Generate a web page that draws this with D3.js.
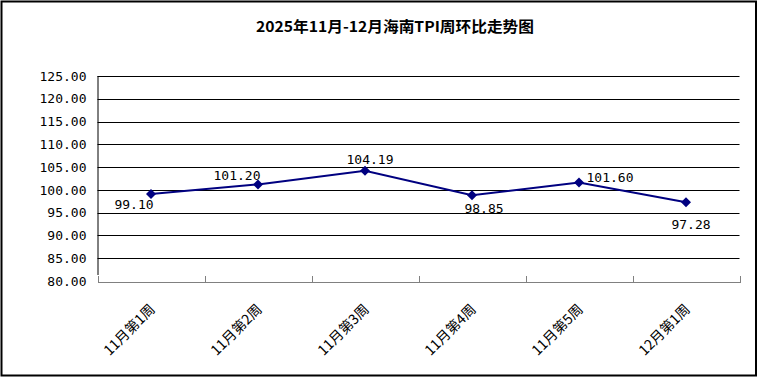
<!DOCTYPE html>
<html>
<head>
<meta charset="utf-8">
<script src="https://cdn.jsdelivr.net/npm/d3@7"></script>
<style>
  html, body { margin: 0; padding: 0; background: #fff; }
  #chart { width: 758px; height: 377px; }
</style>
</head>
<body>
<div id="chart"></div>
<script>
// 数据
const weeks = ["11月第1周", "11月第2周", "11月第3周", "11月第4周", "11月第5周", "12月第1周"];
const tpi = [99.10, 101.20, 104.19, 98.85, 101.60, 97.28];
const yTicks = [80, 85, 90, 95, 100, 105, 110, 115, 120, 125];
const chartTitle = "2025年11月-12月海南TPI周环比走势图";
// 数据标签的手动偏移 (Excel 风格)
const labelNudge = [[-17, 10], [-21, -9], [5, -11], [12, 13], [31, -5], [5, 22]];

const W = 758, H = 377;
const margin = { top: 76, right: 18.5, bottom: 96, left: 97.5 };
const w = W - margin.left - margin.right;
const h = H - margin.top - margin.bottom;

const svg = d3.select("#chart").append("svg")
  .attr("width", W).attr("height", H)
  .attr("viewBox", `0 0 ${W} ${H}`);

// 外框
svg.append("rect")
  .attr("x", 1.5).attr("y", 1.5)
  .attr("width", W - 3.5).attr("height", H - 3)
  .attr("fill", "#fff").attr("stroke", "#000").attr("stroke-width", 2);

// 标题
svg.append("text")
  .attr("x", 395).attr("y", 32)
  .attr("text-anchor", "middle")
  .attr("font-family", "'Noto Sans CJK SC', sans-serif")
  .attr("font-size", 15).attr("font-weight", "bold")
  .attr("textLength", 278).attr("lengthAdjust", "spacingAndGlyphs")
  .text(chartTitle);

const g = svg.append("g").attr("transform", `translate(${margin.left},${margin.top})`);

const x = d3.scaleBand().domain(weeks).range([0, w]);
const xEdge = d3.scaleLinear().domain([0, weeks.length]).range([0, w]);
const y = d3.scaleLinear().domain([80, 125]).range([h, 0]);

/* ── Y 轴 + 网格线 ── */
const yAxis = g.append("g")
  .call(d3.axisLeft(y).tickValues(yTicks).tickSize(0).tickPadding(11).tickFormat(d3.format(".2f")))
  .call(s => s.select(".domain").remove());
yAxis.selectAll("text")
  .attr("fill", "#000")
  .attr("font-family", "'DejaVu Sans Mono', monospace")
  .attr("font-size", 13);

g.append("g")
  .selectAll("line")
  .data(yTicks.filter(d => d > 80))
  .join("line")
  .attr("x1", 0).attr("x2", w)
  .attr("y1", d => Math.round(y(d)) + 0.5).attr("y2", d => Math.round(y(d)) + 0.5)
  .attr("stroke", "#000").attr("stroke-width", 1);

// 左侧竖线
g.append("line")
  .attr("x1", 0.5).attr("x2", 0.5)
  .attr("y1", y(125)).attr("y2", h - 6)
  .attr("stroke", "#000");

/* ── X 轴 ── */
const xAxis = g.append("g")
  .attr("transform", `translate(0,${h + 0.5})`)
  .call(d3.axisBottom(xEdge).tickValues(d3.range(weeks.length + 1)).tickSize(-6).tickFormat(""));
xAxis.selectAll("line,path").attr("stroke", "#808080").attr("shape-rendering", "crispEdges");

g.append("g")
  .selectAll("text")
  .data(weeks)
  .join("text")
  .attr("transform", d => `translate(${x(d) + x.bandwidth() / 2 + 5},${h + 29}) rotate(-45)`)
  .attr("text-anchor", "end")
  .attr("font-family", "'Noto Sans CJK SC', sans-serif")
  .attr("font-size", 14)
  .attr("fill", "#000")
  .text(d => d);

/* ── 折线 ── */
const pts = weeks.map((wk, i) => ({ wk, v: tpi[i], i }));

g.append("path")
  .datum(pts)
  .attr("fill", "none")
  .attr("stroke", "#000080")
  .attr("stroke-width", 2)
  .attr("d", d3.line().x(d => x(d.wk) + x.bandwidth() / 2).y(d => y(d.v)));

g.selectAll(".dot")
  .data(pts)
  .join("path")
  .attr("class", "dot")
  .attr("transform", d => `translate(${x(d.wk) + x.bandwidth() / 2},${y(d.v)})`)
  .attr("d", "M0,-5L5,0L0,5L-5,0Z")
  .attr("fill", "#000080");

g.selectAll(".val")
  .data(pts)
  .join("text")
  .attr("class", "val")
  .attr("x", d => x(d.wk) + x.bandwidth() / 2 + labelNudge[d.i][0])
  .attr("y", d => y(d.v) + labelNudge[d.i][1])
  .attr("dy", "0.35em")
  .attr("text-anchor", "middle")
  .attr("font-family", "'DejaVu Sans Mono', monospace")
  .attr("font-size", 13)
  .attr("fill", "#000")
  .text(d => d3.format(".2f")(d.v));
</script>
</body>
</html>
